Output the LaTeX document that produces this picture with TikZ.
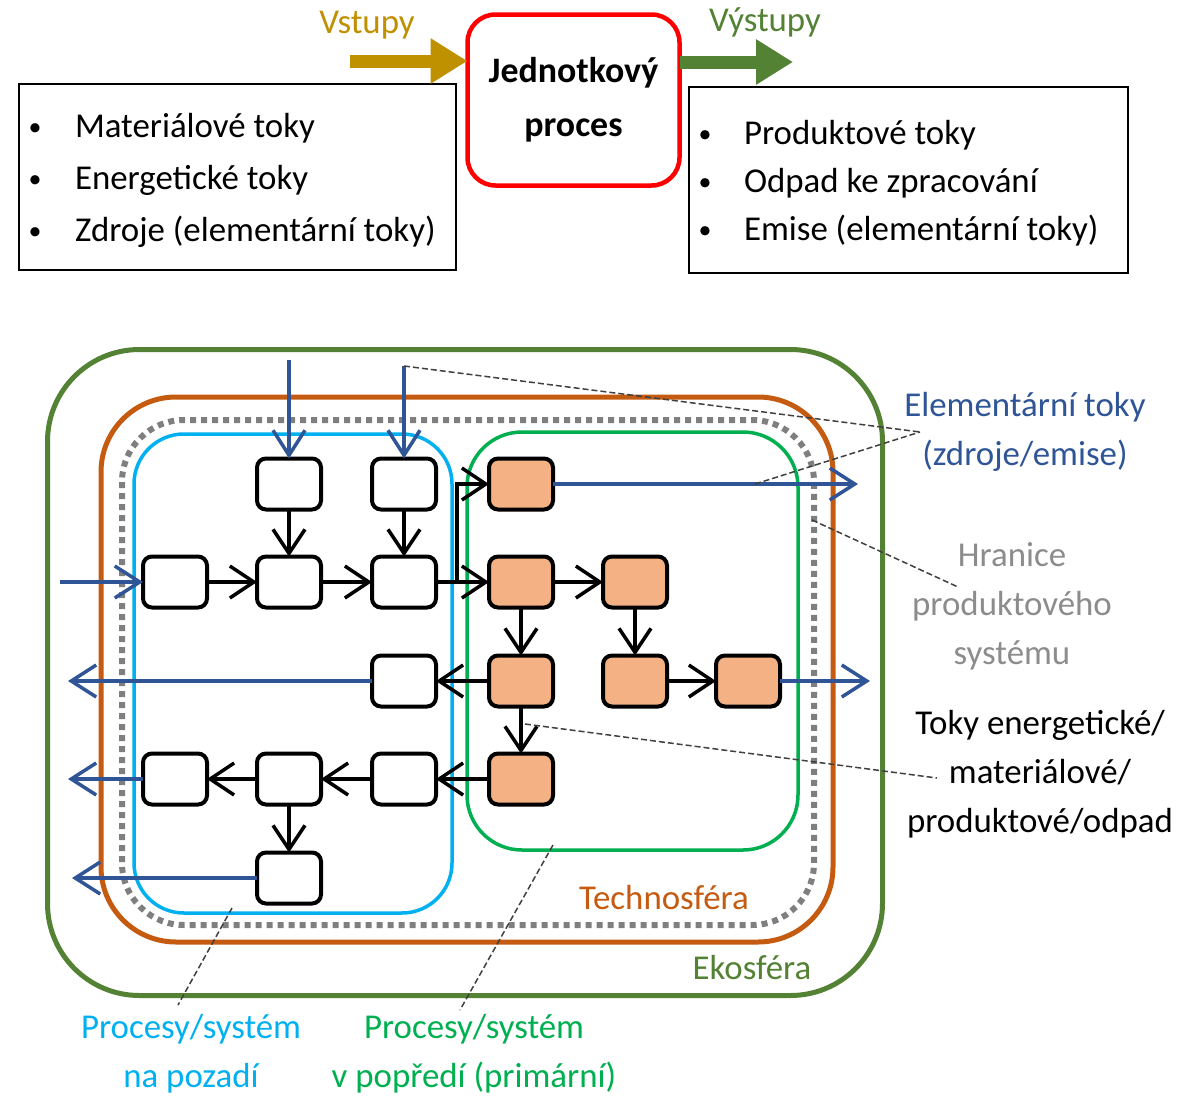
\documentclass[tikz,border=0pt]{standalone}
\usepackage{fontspec}
\setmainfont{Carlito}
\usetikzlibrary{arrows.meta}
\definecolor{gold}{HTML}{BF9000}
\definecolor{ecogreen}{HTML}{548235}
\definecolor{flowblue}{HTML}{2F5597}
\definecolor{bgcyan}{HTML}{00B0F0}
\definecolor{fggreen}{HTML}{00B050}
\definecolor{techorange}{HTML}{C55A11}
\definecolor{salmon}{HTML}{F4B183}
\definecolor{boundgray}{HTML}{7F7F7F}
\definecolor{labelgray}{HTML}{8C8C8C}
\definecolor{unitred}{HTML}{FF0000}

\begin{document}
\begin{tikzpicture}[x=1bp,y=-1bp,
  every node/.style={font=\fontsize{35}{49}\selectfont, inner sep=0pt, outer sep=0pt},
  listbox/.style={draw, line width=2bp},
  bulletmark/.style={font=\fontsize{26}{30}\selectfont},
  unitbox/.style={draw=unitred, line width=4.5bp, rounded corners=28bp,
    minimum width=212bp, minimum height=171bp, align=center,
    font=\bfseries\fontsize{36}{54}\selectfont},
  bigarrow/.style={line width=13bp, -{Triangle[length=37bp,width=43bp]}},
  pbox/.style={draw, line width=4bp, rounded corners=9bp, fill=white,
    minimum width=64bp, minimum height=51bp},
  obox/.style={pbox, fill=salmon},
  flow/.style={line width=3.3bp, -{Straight Barb[length=24bp,width=32bp,line width=3.5bp]}},
  elem/.style={flowblue, line width=3.3bp, -{Straight Barb[length=25bp,width=32bp,line width=3.5bp]}},
  leader/.style={black!75, line width=1.5bp, dash pattern=on 6bp off 3bp},
  lbl/.style={align=center}
]
\useasboundingbox (0,0) rectangle (1194,1099);

% ---------- unit process scheme ----------
\node[unitbox] (unit) at (573.5,100) {Jednotkový\\proces};

\node[listbox, minimum width=437bp, minimum height=186bp] (inputs) at (237.5,177) {};
\node[listbox, minimum width=439bp, minimum height=186bp] (outputs) at (908.5,180) {};

\node[bulletmark, anchor=base] (ib1) at (35,135) {•};
\node[bulletmark, anchor=base] (ib2) at (35,187) {•};
\node[bulletmark, anchor=base] (ib3) at (35,239) {•};
\node[anchor=base west] (it1) at (75,137) {Materiálové toky};
\node[anchor=base west] (it2) at (75,189) {Energetické toky};
\node[anchor=base west] (it3) at (75,241) {Zdroje (elementární toky)};

\node[bulletmark, anchor=base] (ob1) at (705,142) {•};
\node[bulletmark, anchor=base] (ob2) at (705,190) {•};
\node[bulletmark, anchor=base] (ob3) at (705,238) {•};
\node[anchor=base west] (ot1) at (744,144) {Produktové toky};
\node[anchor=base west] (ot2) at (744,192) {Odpad ke zpracování};
\node[anchor=base west] (ot3) at (744,240) {Emise (elementární toky)};

\node[text=gold] (vst) at (367,25) {Vstupy};
\node[text=ecogreen] (vyst) at (765,22) {Výstupy};
\coordinate (vin) at (350,61);
\coordinate (vout) at (793,62);
\draw[bigarrow, gold] (vin) -- (vin -| unit.west);
\draw[bigarrow, ecogreen] (vout -| unit.east) -- (vout);

% ---------- product system ----------
\draw[ecogreen, line width=5bp, rounded corners=92bp] (47.5,349.5) rectangle (882.5,995.5);
\draw[techorange, line width=5bp, rounded corners=75bp] (101,397) rectangle (833,942);
\draw[boundgray, line width=6bp, dash pattern=on 6bp off 5bp, rounded corners=62bp] (122,420) rectangle (814,925);
\draw[bgcyan, line width=3.5bp, rounded corners=50bp] (134,434) rectangle (452,913);
\draw[fggreen, line width=3.5bp, rounded corners=55bp] (467,432) rectangle (798,850);

% background processes
\node[pbox] (w1) at (289,484) {};
\node[pbox] (w2) at (404,484) {};
\node[pbox] (w3) at (175,582) {};
\node[pbox] (w4) at (289,582) {};
\node[pbox] (w5) at (404,582) {};
\node[pbox] (w6) at (404,681) {};
\node[pbox] (w7) at (175,779) {};
\node[pbox] (w8) at (289,779) {};
\node[pbox] (w9) at (404,779) {};
\node[pbox] (w10) at (289,878) {};
% foreground processes
\node[obox] (o1) at (521,484) {};
\node[obox] (o2) at (521,582) {};
\node[obox] (o3) at (635,582) {};
\node[obox] (o4) at (521,681) {};
\node[obox] (o5) at (635,681) {};
\node[obox] (o6) at (748,681) {};
\node[obox] (o7) at (521,779) {};

% energy / material / product / waste flows
\coordinate (split) at (457,582);
\draw[flow] (w1) -- (w4);
\draw[flow] (w2) -- (w5);
\draw[flow] (w3) -- (w4);
\draw[flow] (w4) -- (w5);
\draw[flow] (w5) -- (o2);
\draw[flow] (split) |- (o1.west);
\draw[flow] (o2) -- (o3);
\draw[flow] (o2) -- (o4);
\draw[flow] (o3) -- (o5);
\draw[flow] (o5) -- (o6);
\draw[flow] (o4) -- (w6);
\draw[flow] (o4) -- (o7);
\draw[flow] (o7) -- (w9);
\draw[flow] (w9) -- (w8);
\draw[flow] (w8) -- (w7);
\draw[flow] (w8) -- (w10);

% elementary flows
\coordinate (in1) at (289,360);
\coordinate (in2) at (404,366);
\coordinate (in3) at (60,582);
\coordinate (out1) at (858,484);
\coordinate (out2) at (68,681);
\coordinate (out3) at (68,779);
\coordinate (out4) at (72,878);
\coordinate (out5) at (870,681);
\draw[elem] (in1) -- (w1.north);
\draw[elem] (in2) -- (w2.north);
\draw[elem] (in3) -- (w3.west);
\draw[elem] (o1.east) -- (out1);
\draw[elem] (w6.west) -- (out2);
\draw[elem] (w7.west) -- (out3);
\draw[elem] (w10.west) -- (out4);
\draw[elem] (o6.east) -- (out5);

% labels
\node[lbl, text=flowblue] (lel) at (1025,432) {Elementární toky\\(zdroje/emise)};
\node[lbl, text=labelgray] (lhr) at (1012,606) {Hranice\\produktového\\systému};
\node[lbl] (ltk) at (1040,774) {Toky energetické/\\materiálové/\\produktové/odpad};
\node[text=techorange] (ltech) at (664,898) {Technosféra};
\node[text=ecogreen] (leko) at (752,968) {Ekosféra};
\node[lbl, text=bgcyan] (lbg) at (191,1054) {Procesy/systém\\na pozadí};
\node[lbl, text=fggreen] (lfg) at (474,1054) {Procesy/systém\\v popředí (primární)};

% leader lines
\coordinate (elpt) at (920,432);
\coordinate (elsrc) at (755,484);
\coordinate (bnd) at (812,520);
\coordinate (hrpt) at (958,587);
\coordinate (flsrc) at (525,724);
\coordinate (tkpt) at (937,778);
\coordinate (bgsrc) at (232,908);
\coordinate (bgpt) at (178,1005);
\coordinate (fgsrc) at (553,845);
\coordinate (fgpt) at (460,1010);
\draw[leader] (in2) -- (elpt);
\draw[leader] (elsrc) -- (elpt);
\draw[leader] (bnd) -- (hrpt);
\draw[leader] (flsrc) -- (tkpt);
\draw[leader] (bgsrc) -- (bgpt);
\draw[leader] (fgsrc) -- (fgpt);
\end{tikzpicture}
\end{document}
